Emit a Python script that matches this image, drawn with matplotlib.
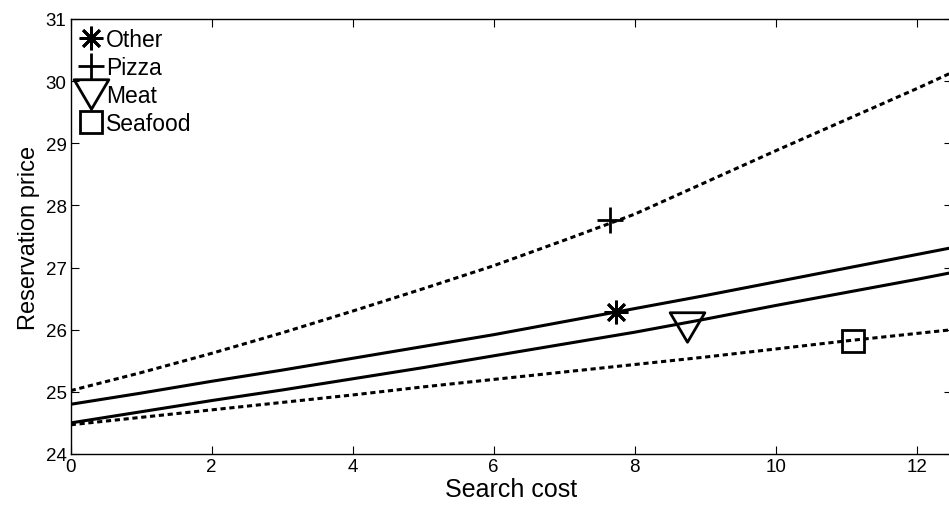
import matplotlib
matplotlib.use("Agg")
import matplotlib.pyplot as plt
from matplotlib.path import Path

plt.rcParams["font.family"] = ["Liberation Sans", "DejaVu Sans"]

# search cost grid
cost = [0, 1, 2, 3, 4, 5, 6, 7, 8, 9, 10, 11, 12, 12.5]

# reservation price curves
pizza = [25.02, 25.31, 25.62, 25.95, 26.30, 26.66, 27.03, 27.44, 27.86, 28.37, 28.88, 29.38, 29.88, 30.14]
other = [24.80, 24.98, 25.17, 25.35, 25.54, 25.73, 25.92, 26.13, 26.34, 26.55, 26.77, 26.99, 27.21, 27.32]
meat = [24.50, 24.68, 24.86, 25.03, 25.21, 25.39, 25.58, 25.77, 25.96, 26.17, 26.39, 26.60, 26.81, 26.92]
seafood = [24.47, 24.59, 24.71, 24.83, 24.95, 25.08, 25.20, 25.32, 25.44, 25.56, 25.69, 25.82, 25.94, 26.00]

# single marked points
labels = ["Other", "Pizza", "Meat", "Seafood"]
mark_x = [7.73, 7.65, 8.74, 11.1]
mark_y = [26.28, 27.76, 26.05, 25.82]

# closed downward triangle, wider than tall like matlab's
tri_down = Path([(-1, 0.85), (1, 0.85), (0, -0.85), (-1, 0.85)],
                [Path.MOVETO, Path.LINETO, Path.LINETO, Path.CLOSEPOLY])
markers = [(8, 2, 0), "+", tri_down, "s"]
sizes = [17, 19, 25, 16]

fig = plt.figure(figsize=(9.49, 5.06), dpi=100)
ax = fig.add_axes([0.0745, 0.1008, 0.9287, 0.8597])

dots = dict(color="black", lw=2.2, dashes=(1.7, 1.2))
ax.plot(cost, pizza, **dots)
ax.plot(cost, seafood, **dots)
ax.plot(cost, other, color="black", lw=2.2)
ax.plot(cost, meat, color="black", lw=2.2)

for i in range(4):
    ax.plot(mark_x[i], mark_y[i], ls="none", marker=markers[i], ms=sizes[i],
            mfc="none", mec="black", mew=2.0, label=labels[i])

ax.set_xlim(0, 12.5)
ax.set_ylim(24, 31)
ax.set_xticks([0, 2, 4, 6, 8, 10, 12])
ax.set_yticks([24, 25, 26, 27, 28, 29, 30, 31])
ax.tick_params(direction="in", length=6, width=0.8, labelsize=13.5,
               top=True, right=True, pad=3)
for s in ax.spines.values():
    s.set_linewidth(1.0)

ax.set_xlabel("Search cost", fontsize=18, labelpad=1)
ax.set_ylabel("Reservation price", fontsize=17, labelpad=4)

ax.legend(loc="upper left", frameon=False, fontsize=16.5, numpoints=1,
          handlelength=1.0, handletextpad=0.15, labelspacing=0.22,
          borderaxespad=0.2, borderpad=0.2)

fig.savefig("out.png", dpi=100)
